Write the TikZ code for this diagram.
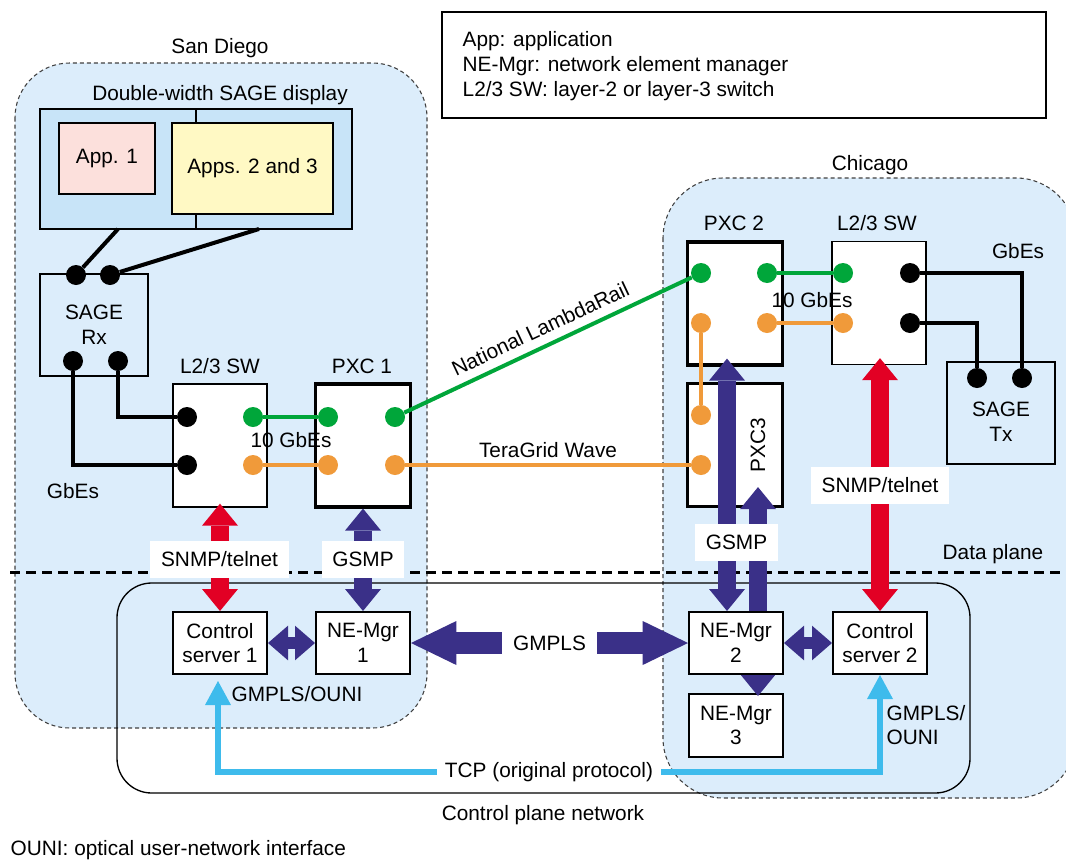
\documentclass[tikz,border=0pt]{standalone}
\usepackage{fontspec}
\setmainfont{Liberation Sans}
\usetikzlibrary{arrows.meta, calc, positioning}
\definecolor{siteblue}{RGB}{220,237,251}
\definecolor{dispblue}{RGB}{200,228,248}
\definecolor{apppink}{RGB}{252,224,220}
\definecolor{appyellow}{RGB}{255,249,196}
\definecolor{lgreen}{RGB}{0,166,58}
\definecolor{lorange}{RGB}{240,154,58}
\definecolor{ctlred}{RGB}{226,0,36}
\definecolor{ctlnavy}{RGB}{58,48,136}
\definecolor{tcpcyan}{RGB}{62,187,236}
\newcommand{\fatTip}{{Triangle[width=27pt, length=16.5pt, line width=0pt]}}
\newcommand{\sideTip}{{Triangle[width=26pt, length=15pt, line width=0pt]}}
\newcommand{\bigTip}{{Triangle[width=33pt, length=34pt, line width=0pt]}}
\newcommand{\tcpTip}{{Triangle[width=19.5pt, length=18pt, line width=0pt]}}

\tikzset{
	site/.style={draw=black!75, dash pattern=on 3pt off 2.25pt, line width=0.8pt, fill=siteblue},
	thinbox/.style={draw, line width=1pt, inner sep=0pt},
	swbox/.style={thinbox, fill=white, minimum width=70.5pt, minimum height=92.25pt},
	pxcbox/.style={draw, line width=2.4pt, fill=white, inner sep=0pt, minimum width=71.25pt, minimum height=92.25pt},
	mgrbox/.style={draw, line width=1.5pt, fill=white, align=center, inner sep=0pt, minimum width=70.5pt, minimum height=46.5pt},
	port/.style={circle, inner sep=0pt, minimum size=15pt},
	cable/.style={line width=3pt},
	tag/.style={fill=white, inner xsep=8pt, minimum height=27.75pt},
	fatred/.style={ctlred, line width=13.5pt, \fatTip-\fatTip},
	fatnavy/.style={ctlnavy, line width=13.5pt, \fatTip-\fatTip},
	sidenavy/.style={ctlnavy, line width=9pt, \sideTip-\sideTip},
	bignavy/.style={ctlnavy, line width=16.5pt, \bigTip-\bigTip},
	tcpline/.style={tcpcyan, line width=5pt}
}

\begin{document}
\begin{tikzpicture}[x=0.75pt, y=-0.75pt, font=\fontsize{15.6}{18.5}\selectfont]
	\useasboundingbox (0,0) rectangle (1066,860);

	% sites and planes
	\draw[site, rounded corners=41pt]			(15,63) rectangle (427,728);
	\draw[site, rounded corners=45pt]			(663,178) rectangle (1076,798);
	\draw[line width=1pt, rounded corners=26pt]	(117,583) rectangle (970,793);
	\draw[line width=2.25pt, dash pattern=on 7.5pt off 4.5pt]	(10,572) -- (1066,572);

	\node (sdname) at (220,48) {San Diego};
	\node (chiname) at (870,165) {Chicago};
	\node (dataplane) at (993,554) {Data plane};
	\node (ctlplane) at (543,815) {Control plane network};
	\node[anchor=west] (ounidef) at (6,850) {OUNI: optical user-network interface};

	\node[thinbox, minimum width=453pt, minimum height=79.5pt] (legend) at (744,65) {};
	\node[anchor=west, align=left] (legendtxt) at (458,66) {App: application\\NE-Mgr: network element manager\\L2/3 SW: layer-2 or layer-3 switch};

	% display and SAGE boxes
	\node (disptitle) at (220,95) {Double-width SAGE display};
	\node[thinbox, fill=dispblue, minimum width=234pt, minimum height=90pt] (disp) at (196,169) {};
	\draw[line width=1pt] (disp.north) -- (disp.south);
	\node[thinbox, fill=apppink, minimum width=72pt, minimum height=53.25pt] (app1) at (107,158.5) {App. 1};
	\node[thinbox, fill=appyellow, minimum width=120.75pt, minimum height=68.25pt] (app23) at (252.5,168.5) {Apps. 2 and 3};
	\coordinate (dispa) at (118,229);
	\coordinate (dispb) at (259,229);

	\node[thinbox, fill=siteblue, minimum width=81pt, minimum height=76.5pt, align=center] (rx) at (94,325) {SAGE\\Rx};
	\node[thinbox, fill=siteblue, minimum width=81pt, minimum height=76.5pt] (tx) at (1001,413) {};
	\node[align=center] (txname) at (1001,422) {SAGE\\Tx};

	% switches and cross-connects
	\node[swbox] (swa) at (220,445.5) {};
	\node[pxcbox] (pxa) at (363,445.5) {};
	\node[pxcbox] (pxb) at (735,303.5) {};
	\node[swbox] (swb) at (879,303) {};
	\node[pxcbox] (pxc) at (735,445) {};

	\node (swaname) at (220,366) {L2/3 SW};
	\node (pxaname) at (362,366) {PXC 1};
	\node (pxbname) at (734,223) {PXC 2};
	\node (swbname) at (877,223) {L2/3 SW};
	\node[rotate=90] (pxcname) at (758,445) {PXC3};
	\node (gbea) at (73,491) {GbEs};
	\node (gbeb) at (1018,251) {GbEs};

	\foreach \name/\px/\py/\col in {
			rxa/76/275/black, rxb/110/275/black, rxc/73/361/black, rxd/118/361/black,
			swa1/187/417/black, swa2/187/465/black, swa3/253/417/lgreen, swa4/253/465/lorange,
			pa1/328/417/lgreen, pa2/395/417/lgreen, pa3/328/465/lorange, pa4/395/465/lorange,
			pb1/701/273/lgreen, pb2/767/273/lgreen, pb3/701/323/lorange, pb4/767/323/lorange,
			swb1/843/273/lgreen, swb2/843/323/lorange, swb3/910/273/black, swb4/910/323/black,
			txa/977/378/black, txb/1022/378/black,
			pc1/701/415/lorange, pc2/701/465/lorange} {
		\node[port, fill=\col] (\name) at (\px,\py) {};
	}

	\node (tengba) at (291,440) {10 GbEs};
	\node (tengbb) at (812,300) {10 GbEs};

	% cables
	\draw[cable]	(dispa) -- (rxa);
	\draw[cable]	(dispb) -- (rxb);
	\draw[cable]	(rxd) |- (swa1);
	\draw[cable]	(rxc) |- (swa2);
	\draw[cable]	(swb3) -| (txb);
	\draw[cable]	(swb4) -| (txa);
	\draw[cable, lgreen]	(swa3) -- (pa1);
	\draw[cable, lgreen]	(pa2) -- (pb1) node[midway, above=3pt, sloped, text=black] (nlr) {National LambdaRail};
	\draw[cable, lgreen]	(pb2) -- (swb1);
	\draw[cable, lorange]	(swa4) -- (pa3);
	\draw[cable, lorange]	(pa4) -- (pc2) node[midway, above=1pt, text=black] (tgw) {TeraGrid Wave};
	\draw[cable, lorange]	(pb3) -- (pc1);
	\draw[cable, lorange]	(pb4) -- (swb2);

	% control side
	\node[mgrbox] (csa) at (220,643) {Control\\server 1};
	\node[mgrbox] (nea) at (363,643) {NE-Mgr\\1};
	\node[mgrbox, minimum height=47.25pt] (nec) at (736,725.5) {NE-Mgr\\3};
	\node[mgrbox] (csb) at (880,643) {Control\\server 2};

	\draw[fatnavy]	($(nec.north)+(22,3)$) -- ($(pxc.south)+(23,-21)$);
	\node[mgrbox] (neb) at (736,643) {NE-Mgr\\2};

	\draw[fatred]	($(swa.south)+(0,-4)$) -- (csa.north);
	\draw[fatnavy]	(pxa.south) -- (nea.north);
	\draw[fatnavy]	($(pxb.south)+(-8,-8)$) -- ($(neb.north)+(-9,0)$);
	\draw[fatred]	($(swb.south)+(1,-7)$) -- (csb.north);
	\draw[sidenavy]	(csa.east) -- (nea.west);
	\draw[sidenavy]	(neb.east) -- (csb.west);
	\draw[bignavy]	(nea.east) -- (neb.west) node[midway, fill=white, inner xsep=8pt, minimum height=20pt, text=black] (gmpls) {GMPLS};

	\node[fill=white, inner xsep=6pt, inner ysep=2pt] (tcp) at (549,772) {TCP (original protocol)};
	\draw[tcpline, \tcpTip-]	($(csa.south)+(-2,6)$) |- (tcp.west);
	\draw[tcpline, -\tcpTip]	(tcp.east) -| (csb.south);

	\node[tag] (snmpa) at (219.5,559.5) {SNMP/telnet};
	\node[tag] (gsmpa) at (363,559.5) {GSMP};
	\node[tag] (snmpb) at (880,485.5) {SNMP/telnet};
	\node[tag] (gsmpb) at (736.5,542.5) {GSMP};

	\node (ounia) at (297,694) {GMPLS/OUNI};
	\node[anchor=west, align=left] (ounib) at (882,725) {GMPLS/\\OUNI};

\end{tikzpicture}
\end{document}
